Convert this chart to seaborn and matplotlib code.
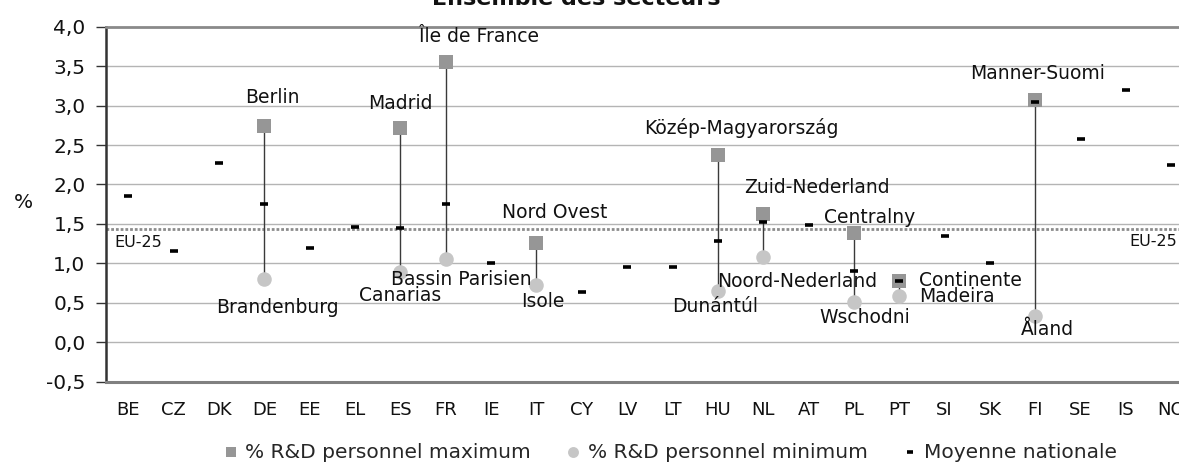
import numpy as np
import pandas as pd
import matplotlib
matplotlib.use("Agg")
import matplotlib.pyplot as plt
import seaborn as sns

nan = np.nan
countries = ["BE", "CZ", "DK", "DE", "EE", "EL", "ES", "FR", "IE", "IT", "CY", "LV",
             "LT", "HU", "NL", "AT", "PL", "PT", "SI", "SK", "FI", "SE", "IS", "NO"]
national_avg = [1.85, 1.16, 2.27, 1.75, 1.20, 1.455, 1.45, 1.75, 1.01, nan, 0.635, 0.96,
                0.96, 1.285, 1.53, 1.48, 0.905, 0.78, 1.35, 1.005, 3.04, 2.575, 3.20, 2.25]
max_vals = [nan, nan, nan, 2.74, nan, nan, 2.72, 3.55, nan, 1.255, nan, nan,
            nan, 2.37, 1.63, nan, 1.38, 0.78, nan, nan, 3.07, nan, nan, nan]
min_vals = [nan, nan, nan, 0.80, nan, nan, 0.89, 1.05, nan, 0.73, nan, nan,
            nan, 0.655, 1.08, nan, 0.515, 0.585, nan, nan, 0.335, nan, nan, nan]
max_regions = ["", "", "", "Berlin", "", "", "Madrid", "Île de France", "", "Nord Ovest", "", "",
               "", "Közép-Magyarország", "Zuid-Nederland", "", "Centralny", "Continente", "", "", "Manner-Suomi", "", "", ""]
min_regions = ["", "", "", "Brandenburg", "", "", "Canarias", "Bassin Parisien", "", "Isole", "", "",
               "", "Dunántúl", "Noord-Nederland", "", "Wschodni", "Madeira", "", "", "Åland", "", "", ""]
eu25 = 1.44
yticks = [-0.5, 0.0, 0.5, 1.0, 1.5, 2.0, 2.5, 3.0, 3.5, 4.0]

# label offsets in pixels relative to marker (dx, dy, ha) - layout only
label_style = {
    "Berlin": (8, 29, "center"), "Madrid": (0, 24, "center"),
    "Île de France": (33, 26, "center"), "Nord Ovest": (18, 31, "center"),
    "Közép-Magyarország": (24, 27, "center"), "Zuid-Nederland": (54, 26, "center"),
    "Centralny": (16, 16, "center"), "Continente": (20, 0, "left"),
    "Manner-Suomi": (2, 27, "center"),
    "Brandenburg": (13, -28, "center"), "Canarias": (0, -23, "center"),
    "Bassin Parisien": (16, -20, "center"), "Isole": (6, -17, "center"),
    "Dunántúl": (-3, -16, "center"), "Noord-Nederland": (34, -24, "center"),
    "Wschodni": (11, -16, "center"), "Madeira": (20, 0, "left"),
    "Åland": (12, -14, "center"),
}

sns.set_theme(style="white")
plt.rcParams["font.family"] = ["DejaVu Sans"]

df = pd.DataFrame({
    "pays": countries,
    "pos": np.arange(len(countries)),
    "moy": national_avg,
    "max": max_vals,
    "min": min_vals,
    "reg_max": max_regions,
    "reg_min": min_regions,
})

fig = plt.figure(figsize=(11.79, 4.69), dpi=100)
ax = fig.add_axes([105.7 / 1179, 1 - 381.7 / 469, (1194 - 105.7) / 1179, (381.7 - 26.7) / 469])

# grid + EU line
for v in yticks[1:-1]:
    ax.axhline(v, color="#b4b4b4", lw=1.0, zorder=0)
ax.axhline(eu25, color="#8c8c8c", lw=2.0, ls=(0, (1, 0.7)), zorder=1)

# vertical connectors
pair = df.dropna(subset=["max", "min"])
ax.vlines(pair["pos"], pair["min"], pair["max"], color="#3a3a3a", lw=1.0, zorder=2)

sns.scatterplot(data=df, x="pos", y="max", marker="s", color="#969696", s=105,
                linewidth=0, ax=ax, zorder=3, label="% R&D personnel maximum")
sns.scatterplot(data=df, x="pos", y="min", marker="o", color="#c6c6c6", s=110,
                linewidth=0, ax=ax, zorder=3, label="% R&D personnel minimum")
sns.scatterplot(data=df, x="pos", y="moy", marker="_", color="black", s=30,
                linewidth=2.6, edgecolor="black", ax=ax, zorder=4, label="Moyenne nationale")

# region labels
for _, r in df.iterrows():
    for name, val in ((r["reg_max"], r["max"]), (r["reg_min"], r["min"])):
        if name:
            dx, dy, ha = label_style[name]
            ax.annotate(name, xy=(r["pos"], val), xytext=(dx, dy), textcoords="offset pixels",
                        ha=ha, va="center", fontsize=13.5, color="#111111", zorder=5)

# EU-25 labels
ax.annotate("EU-25", xy=(-0.5, eu25), xytext=(9, -14), textcoords="offset pixels",
            ha="left", va="center", fontsize=11.5, color="#111111")
ax.annotate("EU-25", xy=(1.0, eu25), xycoords=("figure fraction", "data"), xytext=(-2, -13),
            textcoords="offset pixels", ha="right", va="center", fontsize=11.5, color="#111111")

ax.set_xlim(-0.5, len(countries) - 0.5)
ax.set_ylim(-0.5, 4.0)
ax.set_yticks(yticks, [f"{v:.1f}".replace(".", ",") for v in yticks])
ax.set_xticks(df["pos"], countries)
ax.tick_params(axis="y", length=7, width=1, color="#333333", direction="out",
               pad=7.5, labelsize=14.5, labelcolor="#111111", left=True)
ax.tick_params(axis="x", length=0, pad=14, labelsize=13, labelcolor="#111111")
ax.set_xlabel("")
ax.set_ylabel("")

for side in ["right"]:
    ax.spines[side].set_visible(False)
ax.spines["left"].set_color("#333333")
ax.spines["left"].set_linewidth(1.8)
ax.spines["bottom"].set_color("#808080")
ax.spines["bottom"].set_linewidth(2.2)
ax.spines["top"].set_color("#8a8a8a")
ax.spines["top"].set_linewidth(2.0)

fig.text(23 / 1179, 1 - 202 / 469, "%", ha="center", va="center", fontsize=14.5, color="#111111")
fig.text(576 / 1179, 1 - 5 / 469, "Ensemble des secteurs", ha="center", va="baseline",
         fontsize=16, fontweight="bold", color="#111111")

handles, labels = ax.get_legend_handles_labels()
ax.get_legend().remove()
fig.legend(handles, labels, loc="center", bbox_to_anchor=(669 / 1179, 1 - 452 / 469), ncol=3,
           frameon=False, fontsize=14.5, handletextpad=0.2, columnspacing=1.6,
           markerscale=0.75, handlelength=1.0)

fig.savefig("out.png", dpi=100)
